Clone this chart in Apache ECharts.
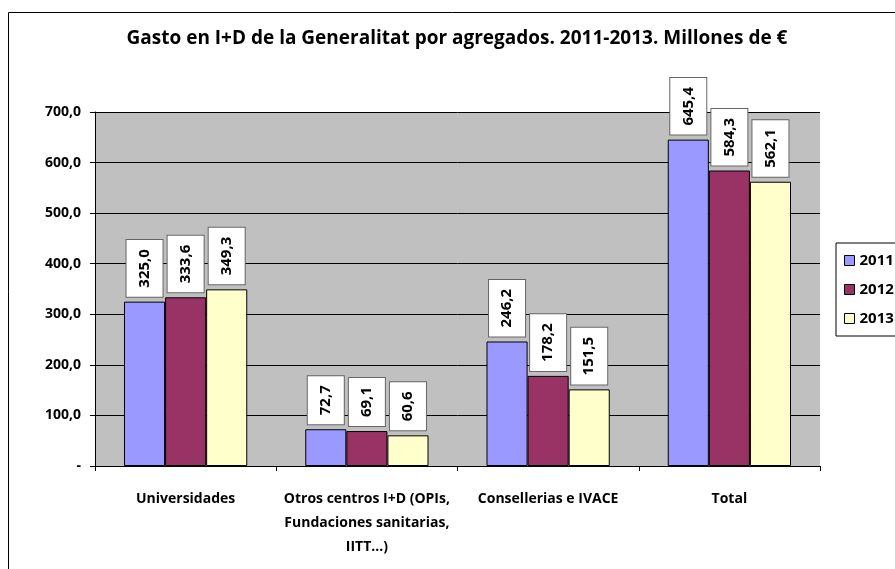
<!doctype html>
<html lang="es">
<head>
	<meta charset="UTF-8">
	<title>Gasto en I+D de la Generalitat</title>
	<script src="https://cdn.jsdelivr.net/npm/echarts@6/dist/echarts.min.js"></script>
	<style>
		html, body { margin: 0; padding: 0; background: #fff; }
		#chart { width: 895px; height: 569px; }
	</style>
</head>
<body>
	<div id="chart"></div>
	<script>
		// datos
		var categorias = ['Universidades', 'Otros centros I+D (OPIs,\nFundaciones sanitarias,\nIITT...)', 'Consellerias e IVACE', 'Total'];
		var anios = ['2011', '2012', '2013'];
		var v2011 = [325.0, 72.7, 246.2, 645.4];
		var v2012 = [333.6, 69.1, 178.2, 584.3];
		var v2013 = [349.3, 60.6, 151.5, 562.1];
		var colores = ['#9999FF', '#993366', '#FFFFCC'];

		var fuente = '"Liberation Sans Narrow", "Open Sans", sans-serif';

		function fmt(v) {
			if (v === 0) return '-';
			return v.toFixed(1).replace('.', ',');
		}

		var chart = echarts.init(document.getElementById('chart'));

		var series = [v2011, v2012, v2013].map(function (d, i) {
			return {
				name: anios[i],
				type: 'bar',
				data: d,
				barGap: '0%',
				barCategoryGap: '32%',
				itemStyle: { color: colores[i], borderColor: '#000', borderWidth: 1 },
				label: {
					show: true,
					position: 'top',
					distance: 5,
					rotate: 90,
					align: 'left',
					verticalAlign: 'middle',
					formatter: function (p) { return fmt(p.value); },
					fontFamily: fuente,
					fontWeight: 'bold',
					fontSize: 15,
					color: '#000',
					lineHeight: 20,
					backgroundColor: '#fff',
					borderColor: '#666',
					borderWidth: 1,
					padding: [8, 9]
				}
			};
		});

		chart.setOption({
			animation: false,
			textStyle: { fontFamily: fuente },
			graphic: [{
				type: 'rect',
				shape: { x: 8.5, y: 12.5, width: 900, height: 600 },
				style: { fill: 'none', stroke: '#000', lineWidth: 1 },
				z: -10
			}],
			title: {
				text: 'Gasto en I+D de la Generalitat por agregados. 2011-2013. Millones de €',
				left: 452,
				textAlign: 'center',
				top: 24,
				textStyle: { fontFamily: fuente, fontWeight: 'bold', fontSize: 19, color: '#000' }
			},
			legend: {
				orient: 'vertical',
				left: 836,
				top: 243,
				data: anios,
				backgroundColor: '#fff',
				borderColor: '#000',
				borderWidth: 1,
				borderRadius: 0,
				padding: [10, 10, 10, 8],
				itemWidth: 10,
				itemHeight: 10,
				itemGap: 14,
				icon: 'rect',
				itemStyle: { borderColor: '#000', borderWidth: 1 },
				textStyle: { fontFamily: fuente, fontWeight: 'bold', fontSize: 15, color: '#000' }
			},
			grid: { left: 95, right: 75, top: 112, bottom: 103 },
			xAxis: {
				type: 'category',
				data: categorias,
				axisLine: { lineStyle: { color: '#000' } },
				axisTick: { show: true, length: 5, lineStyle: { color: '#000' } },
				axisLabel: {
					margin: 21,
					fontFamily: fuente,
					fontWeight: 'bold',
					fontSize: 14,
					lineHeight: 24,
					color: '#000',
					interval: 0
				}
			},
			yAxis: {
				type: 'value',
				min: 0,
				max: 700,
				interval: 100,
				axisLine: { show: true, lineStyle: { color: '#000' } },
				axisTick: { show: true, length: 5, inside: false, lineStyle: { color: '#000' } },
				splitLine: { lineStyle: { color: '#000', width: 1 } },
				splitArea: { show: true, areaStyle: { color: ['#C0C0C0', '#C0C0C0'] } },
				axisLabel: {
					margin: 14,
					formatter: fmt,
					fontFamily: fuente,
					fontWeight: 'bold',
					fontSize: 14,
					color: '#000'
				}
			},
			series: series
		});
	</script>
</body>
</html>
